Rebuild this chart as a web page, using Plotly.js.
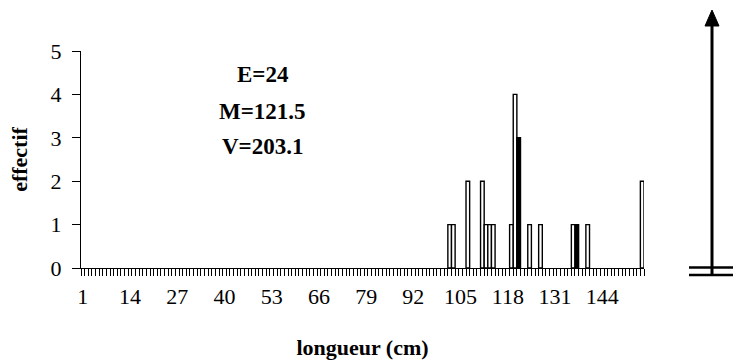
<!DOCTYPE html>
<html>
<head>
<meta charset="utf-8">
<script src="https://cdn.plot.ly/plotly-3.0.1.min.js"></script>
<style>html,body{margin:0;padding:0;background:#fff;}#chart{width:733px;height:364px;}</style>
</head>
<body>
<div id="chart"></div>
<script>
// Data: length categories (cm) and counts (effectif)
const lengths = [102, 103, 107, 111, 112, 113, 114, 119, 120, 121, 124, 127, 136, 137, 140, 155];
const counts  = [1,   1,   2,   2,   1,   1,   1,   1,   4,   3,   1,   1,   1,   1,   1,   2];
const nCategories = 155;
const tickLabels = ['1', '14', '27', '40', '53', '66', '79', '92', '105', '118', '131', '144'];
const statLines = ['E=24', 'M=121.5', 'V=203.1'];
const statY = [4.45, 3.6, 2.8];
const darkBars = [121, 137];

const FONT = 'Liberation Serif, Times New Roman, serif';

const trace = {
  type: 'bar',
  x: lengths,
  y: counts,
  width: lengths.map(() => 1),
  marker: {
    color: lengths.map(c => darkBars.includes(c) ? '#000' : '#fff'),
    line: {color: '#000', width: 1.4}
  },
  hoverinfo: 'x+y',
  showlegend: false
};

const W = 733, H = 364;
const L = 81, R = 644, T = 51, B = 268;
const px = v => (v - L) / (R - L);
const py = v => (B - v) / (B - T);

const layout = {
  width: W, height: H,
  margin: {l: L, r: W - R, t: T, b: H - B},
  paper_bgcolor: '#fff', plot_bgcolor: '#fff',
  font: {family: FONT, color: '#000', size: 22},
  bargap: 0,
  xaxis: {
    type: 'linear',
    range: [0.5, nCategories + 0.5],
    tickmode: 'array',
    tickvals: tickLabels.map(Number),
    ticktext: tickLabels,
    ticks: '',
    ticklabelstandoff: 9,
    tickfont: {family: FONT, size: 22},
    showline: true, linecolor: '#000', linewidth: 1,
    showgrid: false, zeroline: false,
    minor: {tickmode: 'linear', tick0: 0.5, dtick: 1, ticks: 'outside', ticklen: 7, tickwidth: 1, tickcolor: '#000', showgrid: false},
    title: {text: '<b>longueur (cm)</b>', font: {family: FONT, size: 22}, standoff: 31}
  },
  yaxis: {
    range: [0, 5],
    tickmode: 'linear', tick0: 0, dtick: 1,
    ticks: 'outside', ticklen: 8, tickwidth: 1, tickcolor: '#000',
    ticklabelstandoff: 6,
    tickfont: {family: FONT, size: 22},
    showline: true, linecolor: '#000', linewidth: 1,
    showgrid: false, zeroline: false,
    title: {text: '<b>effectif</b>', font: {family: FONT, size: 22}, standoff: 16}
  },
  annotations: statLines.map((t, i) => ({
    x: 50.5, y: statY[i], xref: 'x', yref: 'y',
    text: '<b>' + t + '</b>', showarrow: false,
    font: {family: FONT, size: 23, color: '#000'},
    xanchor: 'center', yanchor: 'middle'
  })),
  shapes: [
    // vertical arrow shaft
    {type: 'line', xref: 'paper', yref: 'paper', x0: px(712), x1: px(712), y0: py(274), y1: py(24), line: {color: '#000', width: 3}},
    // arrow head
    {type: 'path', xref: 'paper', yref: 'paper',
     path: `M ${px(705)} ${py(26)} L ${px(712)} ${py(10)} L ${px(719)} ${py(26)} Z`,
     fillcolor: '#000', line: {color: '#000', width: 1}},
    // double horizontal line
    {type: 'line', xref: 'paper', yref: 'paper', x0: px(689), x1: px(740), y0: py(267.5), y1: py(267.5), line: {color: '#000', width: 2.5}},
    {type: 'line', xref: 'paper', yref: 'paper', x0: px(689), x1: px(740), y0: py(275), y1: py(275), line: {color: '#000', width: 2.5}}
  ]
};

Plotly.newPlot('chart', [trace], layout, {displayModeBar: false, staticPlot: true});
</script>
</body>
</html>
